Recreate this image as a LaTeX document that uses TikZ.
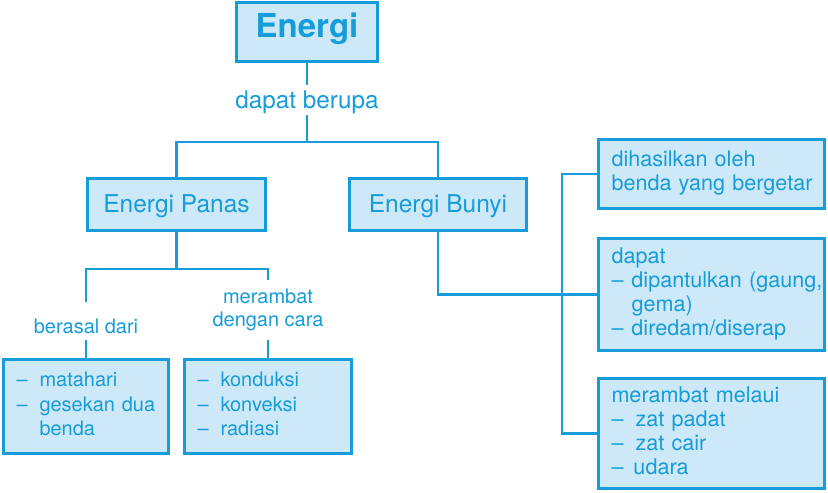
\documentclass[tikz,border=0pt]{standalone}
\usepackage{fontspec}
\setmainfont{TeX Gyre Heros}
\definecolor{eblue}{RGB}{22,156,218}
\definecolor{efill}{RGB}{205,233,248}
\newcommand{\mydash}[1][23pt]{\makebox[#1][l]{–}}
\begin{document}
\begin{tikzpicture}[x=1pt,y=-1pt,
  box/.style={draw=eblue, fill=efill, line width=2.8pt, text=eblue, inner sep=0pt},
  midbox/.style={box, font=\fontsize{24.5}{29}\selectfont, text height=18pt, text depth=3pt},
  listbox/.style={box, align=left, inner xsep=13pt, inner ysep=0pt},
  lft/.style={font=\fontsize{20}{24.5}\selectfont},
  rgt/.style={font=\fontsize{21.6}{24}\selectfont},
  lbl/.style={text=eblue, inner sep=0pt},
  conn/.style={draw=eblue, line width=2.5pt}]
\useasboundingbox (0,0) rectangle (828,493);

\node[box, minimum width=141pt, minimum height=59pt, font=\fontsize{33}{36}\selectfont\bfseries, text height=24pt, text depth=13pt] (energi) at (307,32) {Energi};
\node[lbl, font=\fontsize{24.3}{29}\selectfont, text height=23pt, text depth=7pt, anchor=base] (berupa) at (307,108) {dapat berupa};
\coordinate (j1) at (307,142);

\node[midbox, minimum width=178pt, minimum height=52pt] (panas) at (176.5,204.5) {Energi Panas};
\node[midbox, minimum width=177pt, minimum height=52pt] (bunyi) at (438,204.5) {Energi Bunyi};
\coordinate (j2) at (176.5,269);

\node[lbl, font=\fontsize{20}{24}\selectfont, text height=31pt, text depth=7pt, anchor=base] (asal) at (86,333) {berasal dari};
\node[lbl, align=center, font=\fontsize{20}{23}\selectfont, minimum height=60pt] (rambat) at (268,310) {merambat\\dengan cara};

\node[listbox, lft, minimum width=165pt, minimum height=94pt, text width=139pt] (sumber) at (86,406.5)
  {\begin{tabular}{@{}l@{}}\mydash matahari\\ \mydash gesekan dua\\ \hspace{23pt}benda\end{tabular}};
\node[listbox, lft, minimum width=167pt, minimum height=94pt, text width=141pt] (cara) at (268,406.5)
  {\begin{tabular}{@{}l@{}}\mydash konduksi\\ \mydash konveksi\\ \mydash radiasi\end{tabular}};

\node[listbox, rgt, minimum width=226pt, minimum height=69pt, text width=200pt] (r1) at (711.5,174)
  {\begin{tabular}{@{}l@{}}dihasilkan oleh\\ benda yang bergetar\end{tabular}};
\node[listbox, rgt, minimum width=226pt, minimum height=112pt, text width=200pt] (r2) at (711.5,294.5)
  {\begin{tabular}{@{}l@{}}dapat\\ \mydash[20pt]dipantulkan (gaung,\\ \hspace{20pt}gema)\\ \mydash[20pt]diredam/diserap\end{tabular}};
\node[listbox, rgt, minimum width=226pt, minimum height=110pt, text width=200pt] (r3) at (711.5,433.5)
  {\begin{tabular}{@{}l@{}}merambat melaui\\ \mydash[24pt]zat padat\\ \mydash[24pt]zat cair\\ \mydash[22pt]udara\end{tabular}};
\coordinate (spine) at (562,0);

\draw[conn] (energi.south) -- (berupa.north);
\draw[conn] (berupa.south) -- (j1);
\draw[conn] (panas.north) |- (j1) -| (bunyi.north);
\draw[conn] (panas.south) -- (j2);
\draw[conn] (asal.north) |- (j2) -| (rambat.north);
\draw[conn] (asal.south) -- (sumber.north);
\draw[conn] (rambat.south) -- (cara.north);
\draw[conn] (bunyi.south) |- (r2.west);
\draw[conn] (r1.west) -| (spine |- r3.west) -- (r3.west);
\end{tikzpicture}
\end{document}
